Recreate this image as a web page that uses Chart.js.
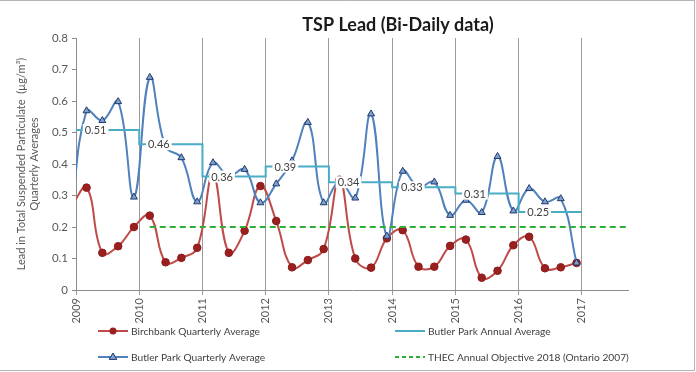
<!DOCTYPE html>
<html><head><meta charset="utf-8">
<script src="https://cdn.jsdelivr.net/npm/chart.js@4.4.1/dist/chart.umd.min.js"></script>
<style>html,body{margin:0;padding:0;background:#fff;}canvas{display:block;}</style>
</head><body>
<canvas id="c" width="696" height="372"></canvas>
<script>
// ---------------- DATA ----------------
const chartTitle = 'TSP Lead (Bi-Daily data)';
const yAxisTitle = ['Lead in Total Suspended Particulate  (\u00b5g/m\u00b3)', 'Quarterly Averages'];
const yearTicks = [2009, 2010, 2011, 2012, 2013, 2014, 2015, 2016, 2017];
const seriesNames = ['Birchbank Quarterly Average', 'Butler Park Annual Average', 'Butler Park Quarterly Average', 'THEC Annual Objective 2018 (Ontario 2007)'];
const quarterDates = ['2008-12',
  '2009-03','2009-06','2009-09','2009-12',
  '2010-03','2010-06','2010-09','2010-12',
  '2011-03','2011-06','2011-09','2011-12',
  '2012-03','2012-06','2012-09','2012-12',
  '2013-03','2013-06','2013-09','2013-12',
  '2014-03','2014-06','2014-09','2014-12',
  '2015-03','2015-06','2015-09','2015-12',
  '2016-03','2016-06','2016-09','2016-12'];
const birchbankQuarterly = [0.262,
  0.325, 0.118, 0.139, 0.200,
  0.236, 0.088, 0.102, 0.134,
  0.365, 0.118, 0.188, 0.330,
  0.219, 0.072, 0.095, 0.130,
  0.350, 0.100, 0.071, 0.164,
  0.190, 0.074, 0.074, 0.140,
  0.160, 0.039, 0.061, 0.142,
  0.169, 0.069, 0.072, 0.086];
const butlerParkQuarterly = [0.22,
  0.569, 0.538, 0.598, 0.295,
  0.675, 0.455, 0.420, 0.280,
  0.404, 0.362, 0.383, 0.277,
  0.337, 0.410, 0.532, 0.277,
  0.345, 0.292, 0.559, 0.171,
  0.377, 0.327, 0.343, 0.237,
  0.285, 0.246, 0.424, 0.251,
  0.322, 0.280, 0.290, 0.086];
const annualYears = [2009, 2010, 2011, 2012, 2013, 2014, 2015, 2016];
const butlerParkAnnual = [0.508, 0.463, 0.360, 0.392, 0.342, 0.326, 0.306, 0.248];
const objectiveDates = ['2010-03', '2017-10'];
const objectiveValue = 0.2;

// ---------------- HELPERS ----------------
function toYear(s) { const p = s.split('-').map(Number); return p[0] + (p[1] - 1) / 12; }
const FONT = 'Lato';
const TXT = '#404040';

const birchData = quarterDates.map((d, i) => ({x: toYear(d), y: birchbankQuarterly[i]}));
const butlerData = quarterDates.map((d, i) => ({x: toYear(d), y: butlerParkQuarterly[i]}));
const annualData = [];
annualYears.forEach((y, i) => {
  annualData.push({x: y, y: butlerParkAnnual[i]});
  annualData.push({x: y + 1, y: butlerParkAnnual[i]});
});
const objectiveData = objectiveDates.map(d => ({x: toYear(d), y: objectiveValue}));

const styles = {
  red: {line: '#BE4B48', fill: '#9A1F1F', border: '#8B1A1A'},
  blue: {line: '#4F81BD', fill: '#7F9FCF', border: '#1F3B6B'},
  cyan: '#4BACC6',
  green: '#2FAE38'
};

function drawTriangle(ctx, x, y, r, fill, stroke) {
  ctx.beginPath();
  ctx.moveTo(x, y - r);
  ctx.lineTo(x + r * 0.95, y + r * 0.6);
  ctx.lineTo(x - r * 0.95, y + r * 0.6);
  ctx.closePath();
  ctx.fillStyle = fill; ctx.fill();
  ctx.strokeStyle = stroke; ctx.lineWidth = 1; ctx.stroke();
}

const decorPlugin = {
  id: 'decor',
  afterDraw(chart) {
    const ctx = chart.ctx;
    const xs = chart.scales.x, ys = chart.scales.y;
    ctx.save();
    // annual labels
    ctx.font = '11px ' + FONT;
    ctx.textAlign = 'center';
    ctx.textBaseline = 'middle';
    annualYears.forEach((yr, i) => {
      const t = butlerParkAnnual[i].toFixed(2);
      const px = xs.getPixelForValue(yr + 0.31);
      const py = ys.getPixelForValue(butlerParkAnnual[i]);
      const w = ctx.measureText(t).width;
      ctx.fillStyle = '#fff';
      ctx.fillRect(px - w / 2 - 2, py - 6, w + 4, 12);
      ctx.fillStyle = TXT;
      ctx.fillText(t, px, py + 0.5);
    });
    // title
    ctx.font = 'bold 18px ' + FONT;
    ctx.fillStyle = '#1a1a1a';
    ctx.fillText(chartTitle, 398, 25);
    // legend
    ctx.font = '10.2px ' + FONT;
    ctx.textAlign = 'left';
    const items = [
      {x: 98, y: 331, kind: 'red'},
      {x: 395, y: 331, kind: 'cyan'},
      {x: 98, y: 357, kind: 'blue'},
      {x: 395, y: 357, kind: 'green'}
    ];
    items.forEach((it, i) => {
      ctx.lineWidth = 2;
      ctx.setLineDash(it.kind === 'green' ? [4, 3] : []);
      ctx.strokeStyle = it.kind === 'red' ? styles.red.line : it.kind === 'blue' ? styles.blue.line : it.kind === 'cyan' ? styles.cyan : styles.green;
      ctx.beginPath(); ctx.moveTo(it.x, it.y); ctx.lineTo(it.x + 30, it.y); ctx.stroke();
      ctx.setLineDash([]);
      if (it.kind === 'red') {
        ctx.beginPath(); ctx.arc(it.x + 15, it.y, 3.5, 0, Math.PI * 2);
        ctx.fillStyle = styles.red.fill; ctx.fill();
      } else if (it.kind === 'blue') {
        drawTriangle(ctx, it.x + 15, it.y, 4, styles.blue.fill, styles.blue.border);
      }
      ctx.fillStyle = TXT;
      ctx.fillText(seriesNames[i], it.x + 33, it.y + 0.5);
    });
    // outer border
    ctx.strokeStyle = '#b5b5b5'; ctx.lineWidth = 1;
    ctx.beginPath();
    ctx.moveTo(0, 0.5); ctx.lineTo(694.5, 0.5); ctx.lineTo(694.5, 370.5); ctx.lineTo(0, 370.5);
    ctx.stroke();
    ctx.restore();
  }
};

Chart.defaults.font.family = FONT;
Chart.defaults.color = '#595959';

new Chart(document.getElementById('c'), {
  type: 'line',
  data: {
    datasets: [
      {label: seriesNames[0], data: birchData, borderColor: styles.red.line, borderWidth: 2,
       pointRadius: 3.8, pointBackgroundColor: styles.red.fill, pointBorderColor: styles.red.border, pointBorderWidth: 1,
       tension: 0.42, order: 3},
      {label: seriesNames[2], data: butlerData, borderColor: styles.blue.line, borderWidth: 2,
       pointStyle: 'triangle', pointRadius: 4, pointBackgroundColor: styles.blue.fill, pointBorderColor: styles.blue.border, pointBorderWidth: 1,
       tension: 0.42, order: 2},
      {label: seriesNames[1], data: annualData, borderColor: styles.cyan, borderWidth: 2, pointRadius: 0, tension: 0, order: 1},
      {label: seriesNames[3], data: objectiveData, borderColor: styles.green, borderWidth: 2, borderDash: [6, 4], pointRadius: 0, tension: 0, order: 0}
    ]
  },
  options: {
    responsive: false,
    animation: false,
    events: [],
    layout: {padding: {left: 0, top: 38, right: 68, bottom: 0}},
    plugins: {legend: {display: false}, title: {display: false}, tooltip: {enabled: false}},
    scales: {
      x: {
        type: 'linear', min: 2009, max: 2017.73,
        afterBuildTicks: s => { s.ticks = yearTicks.map(v => ({value: v})); },
        afterFit: s => { s.height = 82; },
        ticks: {minRotation: 90, maxRotation: 90, padding: 3, font: {size: 11}, color: '#595959',
                callback: v => String(v)},
        grid: {display: true, color: '#9a9a9a', lineWidth: 1, drawOnChartArea: true, tickLength: 5},
        border: {display: true, color: '#8c8c8c', width: 1}
      },
      y: {
        min: 0, max: 0.8,
        afterBuildTicks: s => { s.ticks = [0,1,2,3,4,5,6,7,8].map(v => ({value: v / 10})); },
        afterFit: s => { s.width = 76; },
        ticks: {padding: 4, font: {size: 11.5}, color: '#595959', callback: v => (v === 0 ? '0' : v.toFixed(1))},
        grid: {display: true, drawOnChartArea: false, drawTicks: true, tickLength: 4, color: '#8c8c8c'},
        border: {display: true, color: '#8c8c8c', width: 1},
        title: {display: true, text: yAxisTitle, font: {size: 11}, color: '#595959', padding: {top: 15, bottom: 0}}
      }
    }
  },
  plugins: [decorPlugin]
});
</script>
</body></html>
